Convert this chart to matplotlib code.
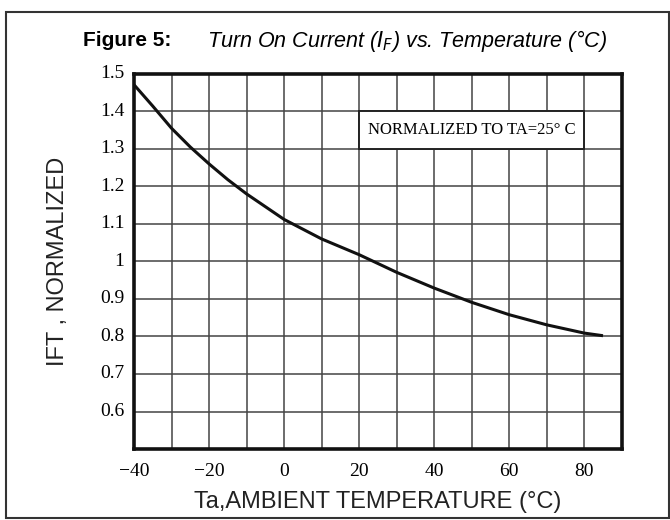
import matplotlib
matplotlib.use('Agg')
from matplotlib import pyplot as plt
from matplotlib.patches import Rectangle
import numpy as np

# Curve
temp_c = [-40, -35, -30, -25, -20, -15, -10, 0, 10, 20, 30, 40, 50, 60, 70, 80, 85]
ift_norm = [1.471, 1.414, 1.355, 1.305, 1.26, 1.218, 1.18, 1.112, 1.06, 1.018,
            0.971, 0.929, 0.891, 0.858, 0.831, 0.809, 0.802]

x_ticks = [-40, -20, 0, 20, 40, 60, 80]
y_ticks = [0.6, 0.7, 0.8, 0.9, 1.0, 1.1, 1.2, 1.3, 1.4, 1.5]
y_tick_labels = ['0.6', '0.7', '0.8', '0.9', '1', '1.1', '1.2', '1.3', '1.4', '1.5']

fig = plt.figure(figsize=(6.7, 5.2), dpi=100)
ax = fig.add_axes([0.2, 0.1365, 0.728, 0.7215])

# outer frame around whole figure
fig.patches.append(Rectangle((0.009, 0.004), 0.99, 0.973, transform=fig.transFigure,
                             fill=False, edgecolor='#333333', linewidth=1.5))

# Title
fig.text(0.124, 0.922, "Figure 5:", fontsize=15, fontweight='bold',
         family='Liberation Sans', ha='left', va='center')
fig.text(0.309, 0.922, r"Turn On Current ($\mathit{I_F}$) vs. Temperature (°C)",
         fontsize=15.5, style='italic', family='Liberation Sans', ha='left', va='center')

ax.set_xlim(-40, 90)
ax.set_ylim(0.5, 1.5)
ax.set_xticks(np.arange(-40, 91, 10))
ax.set_yticks(np.arange(0.5, 1.51, 0.1))
ax.grid(True, color='#444444', linewidth=1.1)
ax.tick_params(length=0, labelbottom=False, labelleft=False)

# labels as text so only the wanted ones show
for t in x_ticks:
    ax.text(t, -0.06, f"{t}".replace('-', '\u2212'), transform=ax.get_xaxis_transform(),
            ha='center', va='center', fontsize=14, family='Liberation Serif')
for v, lab in zip(y_ticks, y_tick_labels):
    ax.text(-0.02, v, lab, transform=ax.get_yaxis_transform(),
            ha='right', va='center', fontsize=14, family='Liberation Serif')

for s in ax.spines.values():
    s.set_linewidth(2.6)
    s.set_color('#111111')

ax.plot(temp_c, ift_norm, color='#111111', linewidth=2.2, solid_capstyle='butt', zorder=3)

# annotation box
ax.add_patch(Rectangle((20, 1.3), 60, 0.1, facecolor='white', edgecolor='#222222',
                       linewidth=1.4, zorder=2))
ax.text(50, 1.35, "NORMALIZED TO TA=25° C", ha='center', va='center',
        fontsize=12, family='Liberation Serif', zorder=4)

ax.set_xlabel("Ta,AMBIENT TEMPERATURE (°C)", fontsize=17, family='Liberation Sans',
              color='#222222', labelpad=30)
ax.set_ylabel("IFT , NORMALIZED", fontsize=17, family='Liberation Sans',
              color='#222222', labelpad=47)

fig.savefig('out.png', dpi=100)
